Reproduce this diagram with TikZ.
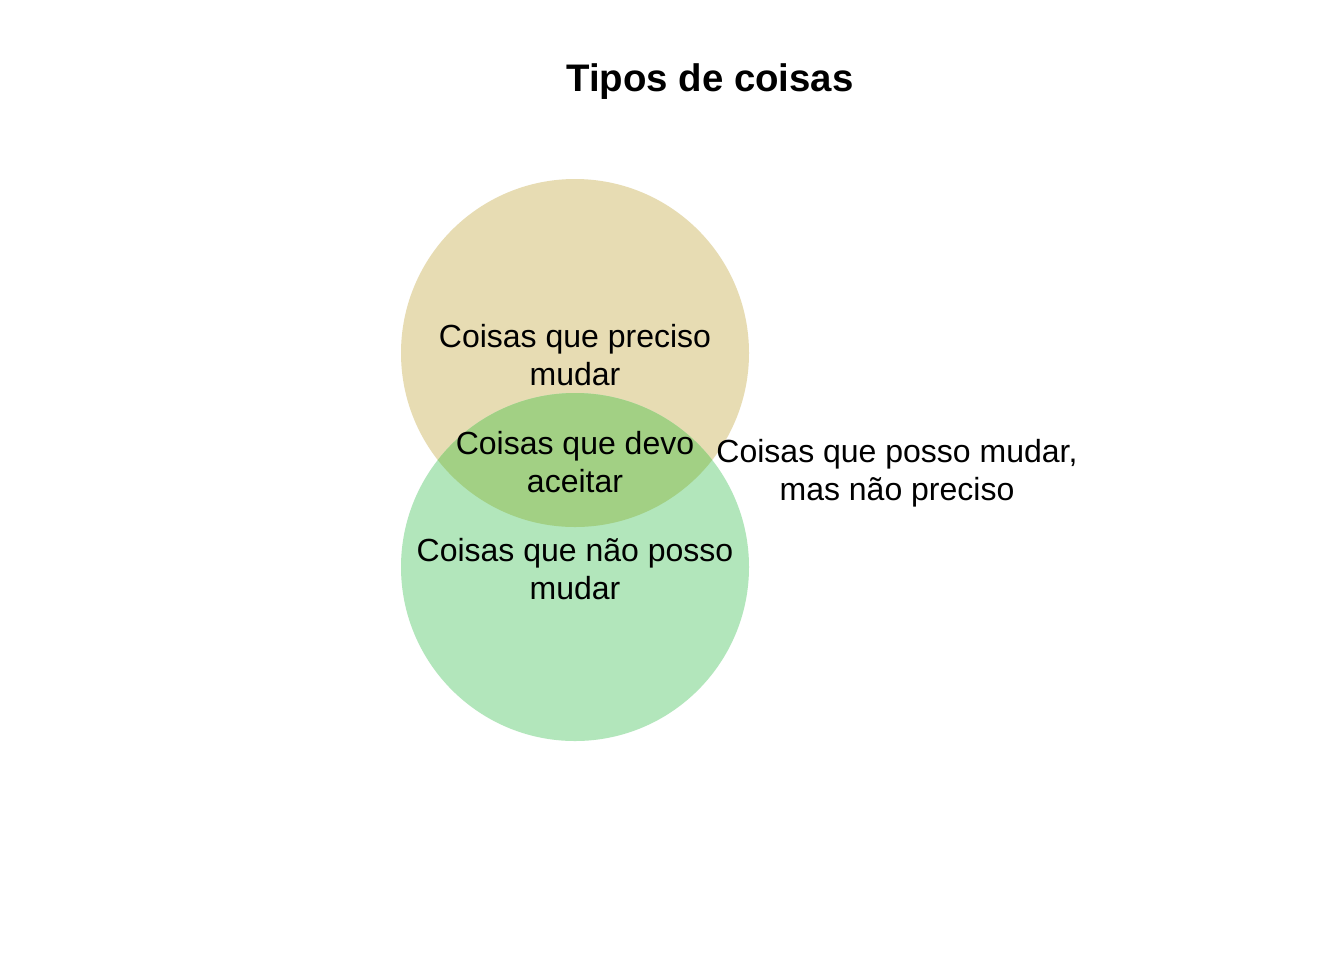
\documentclass[tikz,border=0pt]{standalone}
\usepackage{fontspec}
\setmainfont{Liberation Sans}
\definecolor{topc}{HTML}{E7DCB3}
\definecolor{botc}{HTML}{B2E6BB}
\definecolor{midc}{HTML}{A2D084}
\begin{document}
\begin{tikzpicture}[x=0.75bp,y=-0.75bp,
  lbl/.style={align=center,inner sep=0pt,font=\fontsize{24bp}{28.8bp}\selectfont}]
\useasboundingbox (0,0) rectangle (1344,960);
\fill[white] (0,0) rectangle (1344,960);
\coordinate (ct) at (575,353);
\coordinate (cb) at (575,567);
\fill[topc] (ct) circle[radius=174];
\fill[botc] (cb) circle[radius=174];
\begin{scope}
  \clip (ct) circle[radius=174];
  \fill[midc] (cb) circle[radius=174];
\end{scope}
\node[font=\bfseries\fontsize{28.8bp}{34bp}\selectfont,inner sep=0pt] (title) at (710,82) {Tipos de coisas};
\node[lbl] (a) at (575,355) {Coisas que preciso\\mudar};
\node[lbl] (b) at (575,462) {Coisas que devo\\aceitar};
\node[lbl] (c) at (575,569) {Coisas que não posso\\mudar};
\node[lbl] (d) at (897,473) {Coisas que posso mudar,\\mas não preciso};
\end{tikzpicture}
\end{document}
